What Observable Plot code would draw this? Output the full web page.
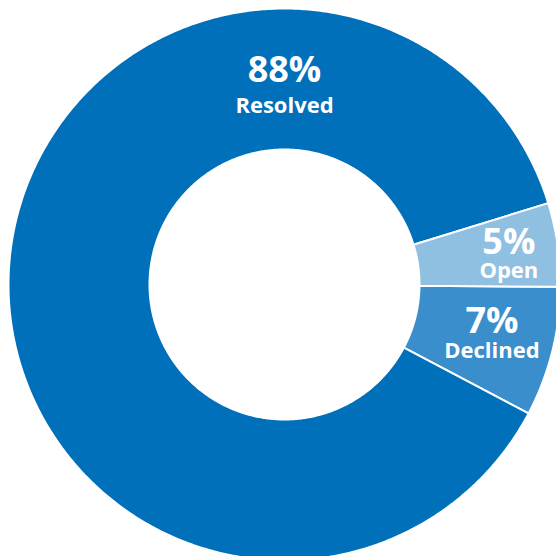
<!DOCTYPE html>
<html>
<head>
<meta charset="utf-8">
<script src="https://cdn.jsdelivr.net/npm/d3@7"></script>
<script src="https://cdn.jsdelivr.net/npm/@observablehq/plot@0.6"></script>
<style>
  html, body { margin: 0; padding: 0; background: #fff; }
  #chart svg { display: block; }
</style>
</head>
<body>
<div id="chart"></div>
<script>
// ---- data ----
const categories = ["Declined", "Resolved", "Open"];
const shares = [7.6, 87.5, 4.9];            // slice sizes
const percentLabels = ["7%", "88%", "5%"];   // printed labels
const colors = ["#3a8ecb", "#0070ba", "#8fc0e2"];

// ---- layout ----
const W = 556, H = 556;
const cx = 284, cy = 284;
const outerR = 276, innerR = 135;
const startDeg = 90.5;
const labelRadius = {Declined: 214, Resolved: 197, Open: 226};
const labelNudgeDeg = {Declined: 0, Resolved: 0, Open: 1.4};

const rad = d => d * Math.PI / 180;
const pie = d3.pie().sort(null).value(d => d.v)
  .startAngle(rad(startDeg))
  .endAngle(rad(startDeg + 360));
const table = categories.map((c, i) => ({name: c, v: shares[i], pct: percentLabels[i]}));
const arcs = pie(table);

// angle a measured clockwise from 12 o'clock; y points downward
const polar = (a, r) => [r * Math.sin(a), -r * Math.cos(a)];

const pts = [];
for (const arc of arcs) {
  const n = Math.max(8, Math.ceil((arc.endAngle - arc.startAngle) / (Math.PI / 360)));
  const ring = [];
  for (let k = 0; k <= n; k++) ring.push(polar(arc.startAngle + (arc.endAngle - arc.startAngle) * k / n, outerR));
  for (let k = n; k >= 0; k--) ring.push(polar(arc.startAngle + (arc.endAngle - arc.startAngle) * k / n, innerR));
  ring.push(ring[0]);
  ring.forEach(([x, y]) => pts.push({name: arc.data.name, x, y}));
}

// label anchors: the biggest slice is labelled at the top, others at their mid-angle
const labels = arcs.map(arc => {
  const big = arc.data.v > 50;
  const a = big ? 0 : (arc.startAngle + arc.endAngle) / 2 + rad(labelNudgeDeg[arc.data.name]);
  const [x, y] = polar(a, labelRadius[arc.data.name]);
  return {name: arc.data.name, pct: arc.data.pct, x, y, big};
});
const bigLabels = labels.filter(d => d.big);
const smallLabels = labels.filter(d => !d.big);

const font = "'Open Sans', 'Noto Sans', sans-serif";
const textMarks = (data, gapTop, gapBottom) => [
  Plot.text(data, {x: "x", y: "y", text: "pct", fill: "#fff", fontSize: 36, fontWeight: "bold",
    fontFamily: font, textAnchor: "middle", dy: -gapTop}),
  Plot.text(data, {x: "x", y: "y", text: "name", fill: "#fff", fontSize: 22, fontWeight: "bold",
    fontFamily: font, textAnchor: "middle", dy: gapBottom})
];

const chart = Plot.plot({
  width: W, height: H,
  margin: 0,
  x: {domain: [-cx, W - cx], range: [0, W], axis: null},
  y: {domain: [-cy, H - cy], range: [0, H], axis: null},
  color: {domain: categories, range: colors},
  style: {background: "#fff"},
  marks: [
    Plot.line(pts, {x: "x", y: "y", z: "name", fill: "name", stroke: "#fff", strokeWidth: 2, curve: "linear"}),
    ...textMarks(bigLabels, 17, 18),
    ...textMarks(smallLabels, 15, 14)
  ]
});
document.getElementById("chart").appendChild(chart);
</script>
</body>
</html>
